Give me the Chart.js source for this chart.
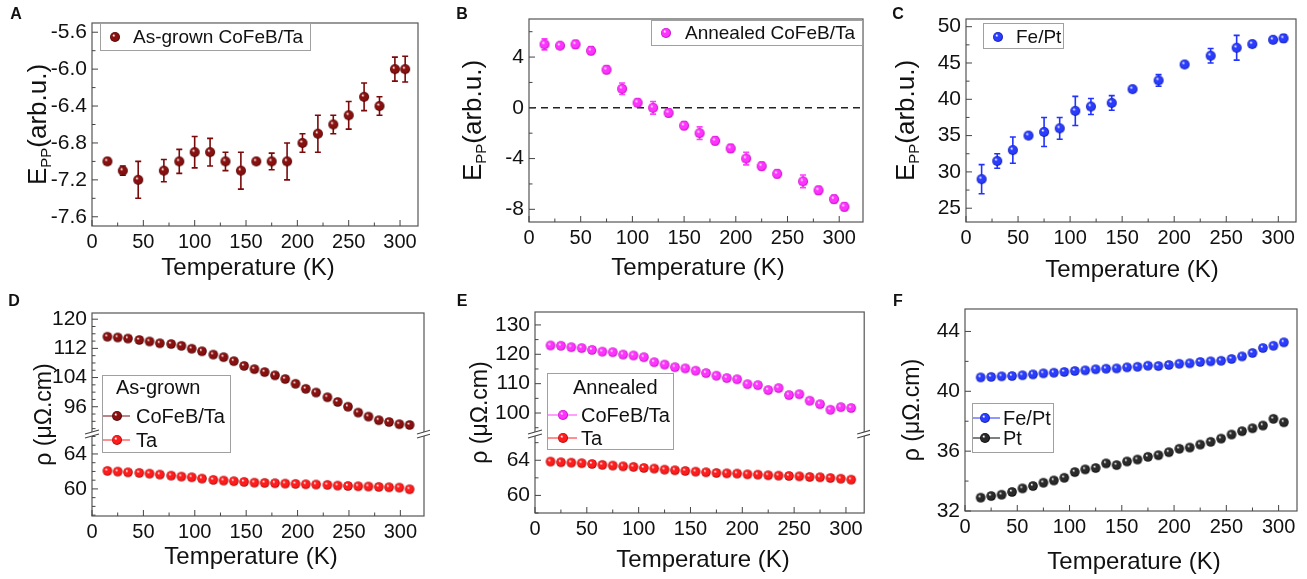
<!DOCTYPE html>
<html lang="en">
<head>
<meta charset="UTF-8">
<title>E_PP and resistivity vs temperature</title>
<script src="https://cdn.jsdelivr.net/npm/chart.js"></script>
<style>
  body { margin: 0; background: #fff; }
  #fig { position: relative; width: 1307px; height: 579px; overflow: hidden; }
  #fig canvas { position: absolute; }
</style>
</head>
<body>
<div id="fig">
  <canvas id="pA" width="430" height="290" style="left:0;top:0"></canvas>
  <canvas id="pB" width="440" height="290" style="left:430px;top:0"></canvas>
  <canvas id="pC" width="437" height="290" style="left:870px;top:0"></canvas>
  <canvas id="pD" width="430" height="289" style="left:0;top:290px"></canvas>
  <canvas id="pE" width="440" height="289" style="left:430px;top:290px"></canvas>
  <canvas id="pF" width="437" height="289" style="left:870px;top:290px"></canvas>
</div>
<script>
const FONT = '"Liberation Sans", Arial, Helvetica, sans-serif';

// ---- data ----
const tempA = [15, 30, 45, 70, 85, 100, 115, 130, 145, 160, 175, 190, 205, 220, 235, 250, 265, 280, 295, 305];
const eppA = [-7.0, -7.1, -7.2, -7.1, -7.0, -6.9, -6.9, -7.0, -7.1, -7.0, -7.0, -7.0, -6.8, -6.7, -6.6, -6.5, -6.3, -6.4, -6.0, -6.0];
const errA = [0.03, 0.05, 0.2, 0.12, 0.13, 0.17, 0.15, 0.1, 0.2, 0.02, 0.09, 0.2, 0.1, 0.2, 0.1, 0.15, 0.15, 0.1, 0.13, 0.14];

const tempB = [15, 30, 45, 60, 75, 90, 105, 120, 135, 150, 165, 180, 195, 210, 225, 240, 265, 280, 295, 305];
const eppB = [5.0, 4.9, 5.0, 4.5, 3.0, 1.5, 0.4, 0.0, -0.4, -1.4, -2.0, -2.6, -3.2, -4.0, -4.6, -5.2, -5.8, -6.5, -7.2, -7.8];
const errB = [0.43, 0.2, 0.3, 0.3, 0.3, 0.45, 0.3, 0.5, 0.3, 0.3, 0.5, 0.3, 0.3, 0.5, 0.3, 0.3, 0.5, 0.3, 0.3, 0.3];

const tempC = [15, 30, 45, 60, 75, 90, 105, 120, 140, 160, 185, 210, 235, 260, 275, 295, 305];
const eppC = [29.0, 31.5, 33.0, 35.0, 35.5, 36.0, 38.4, 39.0, 39.5, 41.4, 42.6, 44.8, 46.0, 47.1, 47.6, 48.2, 48.4];
const errC = [2.0, 1.0, 1.8, 0.3, 2.0, 1.5, 2.0, 1.1, 1.0, 0.3, 0.8, 0.3, 1.0, 1.7, 0.4, 0.4, 0.5];

const tempD = [15, 25, 35, 46, 56, 66, 77, 87, 97, 107, 118, 128, 138, 148, 158, 168, 178, 188, 198, 208, 218, 229, 239, 249, 259, 269, 279, 289, 299, 309];
const rhoCoFeBD = [115.2, 115.0, 114.7, 114.3, 113.9, 113.4, 113.2, 112.7, 111.9, 111.2, 110.3, 109.6, 108.5, 107.2, 106.3, 105.5, 104.6, 103.6, 102.3, 100.9, 99.9, 98.6, 97.3, 96.0, 94.4, 93.3, 92.3, 91.8, 91.2, 91.0];
const rhoTaD = [62.06, 61.98, 61.9, 61.83, 61.75, 61.64, 61.52, 61.41, 61.33, 61.18, 61.03, 60.95, 60.88, 60.8, 60.72, 60.69, 60.65, 60.61, 60.57, 60.53, 60.5, 60.46, 60.38, 60.34, 60.3, 60.27, 60.23, 60.19, 60.15, 59.96];

const tempEF = [15, 25, 35, 45, 55, 65, 75, 85, 95, 105, 115, 125, 135, 145, 155, 165, 175, 185, 195, 205, 215, 225, 235, 245, 255, 265, 275, 285, 295, 305];
const rhoCoFeBE = [123.0, 122.9, 122.4, 122.1, 121.5, 120.9, 120.7, 119.9, 119.6, 119.0, 117.3, 116.5, 115.6, 115.2, 114.4, 113.6, 112.7, 111.9, 111.5, 109.8, 109.5, 107.8, 108.5, 106.1, 106.4, 104.2, 103.0, 101.1, 102.0, 101.7];
const rhoTaE = [63.85, 63.77, 63.73, 63.66, 63.58, 63.47, 63.39, 63.31, 63.24, 63.12, 63.05, 62.93, 62.86, 62.78, 62.7, 62.63, 62.55, 62.51, 62.48, 62.4, 62.36, 62.29, 62.25, 62.21, 62.17, 62.1, 62.06, 61.98, 61.9, 61.79];
const rhoFePtF = [40.93, 40.96, 41.0, 41.02, 41.07, 41.13, 41.2, 41.24, 41.29, 41.36, 41.4, 41.47, 41.51, 41.53, 41.6, 41.64, 41.71, 41.69, 41.76, 41.84, 41.87, 41.96, 42.0, 42.04, 42.16, 42.33, 42.56, 42.89, 43.04, 43.27];
const rhoPtF = [32.89, 33.0, 33.09, 33.27, 33.51, 33.67, 33.89, 34.04, 34.22, 34.6, 34.78, 34.87, 35.18, 35.07, 35.31, 35.44, 35.62, 35.73, 35.93, 36.16, 36.24, 36.44, 36.62, 36.84, 37.11, 37.33, 37.53, 37.71, 38.16, 37.93];

// tick labels
const tickTemp = [0, 50, 100, 150, 200, 250, 300];
const ticksA = [-7.6, -7.2, -6.8, -6.4, -6.0, -5.6];
const ticksB = [-8, -4, 0, 4];
const ticksC = [25, 30, 35, 40, 45, 50];
const ticksDtop = [96, 104, 112, 120];
const ticksDbot = [60, 64];
const ticksEtop = [100, 110, 120, 130];
const ticksEbot = [60, 64];
const ticksF = [32, 36, 40, 44];

// colours: [body, edge, error bar / legend line]
const MAROON = ['#8a1010', '#420000', '#7a0a0a'];
const MAGENTA = ['#ff33ff', '#b000b0', '#ff40ff'];
const BLUE = ['#2a3cff', '#0a149a', '#2233ff'];
const RED = ['#ff1c1c', '#a00000', '#ff2020'];
const BLACK = ['#2a2a2a', '#000000', '#000000'];

function ball(col, r) {
  const s = Math.ceil(2 * r + 2);
  const c = document.createElement('canvas');
  c.width = c.height = s;
  const g = c.getContext('2d');
  const cx = s / 2, cy = s / 2;
  const grad = g.createRadialGradient(cx - r * 0.3, cy - r * 0.35, r * 0.05, cx, cy, r);
  grad.addColorStop(0, '#ffffff');
  grad.addColorStop(0.3, col[0]);
  grad.addColorStop(0.75, col[0]);
  grad.addColorStop(1, col[1]);
  g.fillStyle = grad;
  g.beginPath();
  g.arc(cx, cy, r, 0, Math.PI * 2);
  g.fill();
  return c;
}

function tickMarks(ctx, a, scale, majors, minorStep, horiz) {
  const list = majors.map(v => [v, 6]);
  if (minorStep) {
    for (let v = Math.ceil(scale.min / minorStep) * minorStep; v <= scale.max + 1e-9; v += minorStep) {
      const vv = Math.round(v * 1000) / 1000;
      if (!majors.some(m => Math.abs(m - vv) < 1e-6)) list.push([vv, 3.5]);
    }
  }
  ctx.beginPath();
  list.forEach(([v, len]) => {
    const p = scale.getPixelForValue(v);
    if (horiz) { ctx.moveTo(p, a.bottom); ctx.lineTo(p, a.bottom - len); }
    else { ctx.moveTo(a.left, p); ctx.lineTo(a.left + len, p); }
  });
  ctx.stroke();
}

function breakMark(ctx, x, y) {
  ctx.save();
  ctx.fillStyle = '#fff';
  ctx.beginPath();
  ctx.moveTo(x - 7, y + 1); ctx.lineTo(x + 7, y - 3); ctx.lineTo(x + 7, y + 1); ctx.lineTo(x - 7, y + 5);
  ctx.closePath();
  ctx.fill();
  ctx.strokeStyle = '#444';
  ctx.lineWidth = 1.1;
  ctx.beginPath();
  ctx.moveTo(x - 7, y + 1); ctx.lineTo(x + 7, y - 3);
  ctx.moveTo(x - 7, y + 5); ctx.lineTo(x + 7, y + 1);
  ctx.stroke();
  ctx.restore();
}

function yTitle(ctx, parts, cx, cy) {
  ctx.save();
  ctx.translate(cx, cy);
  ctx.rotate(-Math.PI / 2);
  ctx.fillStyle = '#111';
  ctx.textBaseline = 'alphabetic';
  let total = 0;
  parts.forEach(p => { ctx.font = p.size + 'px ' + FONT; p.w = ctx.measureText(p.t).width; total += p.w; });
  let x = -total / 2;
  parts.forEach(p => {
    ctx.font = p.size + 'px ' + FONT;
    ctx.fillText(p.t, x, 8 + (p.dy || 0));
    x += p.w;
  });
  ctx.restore();
}

function legendBox(ctx, L) {
  const [x1, y1, x2, y2] = L.box;
  ctx.save();
  ctx.fillStyle = '#fff';
  ctx.fillRect(x1, y1, x2 - x1, y2 - y1);
  ctx.strokeStyle = '#a0a0a0';
  ctx.lineWidth = 1;
  ctx.strokeRect(x1 + 0.5, y1 + 0.5, x2 - x1, y2 - y1);
  ctx.fillStyle = '#111';
  ctx.textBaseline = 'middle';
  ctx.font = L.size + 'px ' + FONT;
  if (L.title) ctx.fillText(L.title[0], L.title[1], L.title[2]);
  L.items.forEach(it => {
    if (it.line) {
      ctx.strokeStyle = it.col[2];
      ctx.lineWidth = 1;
      ctx.beginPath();
      ctx.moveTo(it.line[0], it.y); ctx.lineTo(it.line[1], it.y);
      ctx.stroke();
    }
    const img = ball(it.col, 5);
    ctx.drawImage(img, it.bx - img.width / 2, it.y - img.height / 2);
    ctx.fillStyle = '#111';
    ctx.fillText(it.text, it.tx, it.y + 1);
  });
  ctx.restore();
}

function decoPlugin(p) {
  return {
    id: 'deco',
    beforeDatasetsDraw(chart) {
      const ctx = chart.ctx, a = chart.chartArea;
      if (p.zeroLine) {
        const y = chart.scales.y.getPixelForValue(0);
        ctx.save();
        ctx.strokeStyle = '#222';
        ctx.lineWidth = 1.5;
        ctx.setLineDash([7, 5]);
        ctx.beginPath(); ctx.moveTo(a.left, y); ctx.lineTo(a.right, y); ctx.stroke();
        ctx.restore();
      }
      chart.data.datasets.forEach((ds, i) => {
        if (!ds.errors) return;
        const meta = chart.getDatasetMeta(i);
        const xs = meta.xScale, ys = meta.yScale;
        ctx.save();
        ctx.strokeStyle = ds.errColor;
        ctx.lineWidth = 1.6;
        ctx.beginPath();
        ds.data.forEach((pt, j) => {
          const e = ds.errors[j];
          const x = xs.getPixelForValue(pt.x);
          const y1 = ys.getPixelForValue(pt.y + e), y2 = ys.getPixelForValue(pt.y - e);
          ctx.moveTo(x, y1); ctx.lineTo(x, y2);
          ctx.moveTo(x - 3, y1); ctx.lineTo(x + 3, y1);
          ctx.moveTo(x - 3, y2); ctx.lineTo(x + 3, y2);
        });
        ctx.stroke();
        ctx.restore();
      });
    },
    afterDraw(chart) {
      const ctx = chart.ctx, a = chart.chartArea;
      ctx.save();
      ctx.strokeStyle = '#555';
      ctx.lineWidth = 1.2;
      ctx.strokeRect(a.left, a.top, a.right - a.left, a.bottom - a.top);
      ctx.lineWidth = 1;
      ctx.strokeStyle = '#444';
      tickMarks(ctx, a, chart.scales.x, tickTemp, 25, true);
      p.yAxes.forEach(ax => tickMarks(ctx, a, chart.scales[ax.id], ax.ticks, ax.minor, false));
      if (p.yAxes.length > 1) {
        const yb = chart.scales[p.yAxes[0].id].bottom;
        breakMark(ctx, a.left, yb);
        breakMark(ctx, a.right, yb);
      }
      ctx.restore();

      legendBox(ctx, p.legend);
      yTitle(ctx, p.yTitle, p.yTitleX, (a.top + a.bottom) / 2);

      ctx.save();
      ctx.fillStyle = '#111';
      ctx.textAlign = 'center';
      ctx.textBaseline = 'middle';
      ctx.font = '24px ' + FONT;
      ctx.fillText('Temperature (K)', p.xTitle[0], p.xTitle[1]);
      ctx.font = 'bold 16px ' + FONT;
      ctx.fillText(p.letter[0], p.letter[1], p.letter[2]);
      ctx.restore();
    }
  };
}

function makePanel(id, p) {
  const canvas = document.getElementById(id);
  const W = canvas.width, H = canvas.height;
  const scales = {
    x: {
      type: 'linear', min: 0, max: p.xMax,
      afterFit: s => { s.height = H - p.area.b; },
      afterBuildTicks: s => { s.ticks = tickTemp.map(v => ({ value: v })); },
      grid: { display: false, drawTicks: false },
      border: { display: false },
      ticks: { font: { family: FONT, size: 20 }, color: '#111', padding: 4, maxRotation: 0, autoSkip: false }
    }
  };
  // stacked left axes are laid out last-defined on top, so add the lower one first
  const axes = p.yAxes.length > 1 ? p.yAxes.slice().reverse() : p.yAxes;
  axes.forEach(ax => {
    scales[ax.id] = {
      type: 'linear', position: 'left', min: ax.min, max: ax.max,
      afterFit: s => { s.width = p.area.l; },
      afterBuildTicks: s => { s.ticks = ax.ticks.map(v => ({ value: v })); },
      grid: { display: false, drawTicks: false },
      border: { display: false },
      ticks: {
        font: { family: FONT, size: 21 }, color: '#111', padding: 5, autoSkip: false,
        callback: v => ax.dec ? v.toFixed(ax.dec) : String(v)
      }
    };
    if (p.yAxes.length > 1) {
      scales[ax.id].stack = 'rho';
      scales[ax.id].stackWeight = ax.weight;
    }
  });
  const datasets = p.series.map(s => ({
    label: s.label,
    data: s.x.map((x, i) => ({ x: x, y: s.y[i] })),
    yAxisID: s.axis,
    pointStyle: ball(s.col, s.r),
    pointRadius: s.r,
    pointHoverRadius: s.r,
    showLine: false,
    errors: s.err,
    errColor: s.col[2]
  }));
  return new Chart(canvas, {
    type: 'scatter',
    data: { datasets: datasets },
    options: {
      responsive: false,
      animation: false,
      devicePixelRatio: 1,
      layout: { padding: { left: 0, top: p.area.t, right: W - p.area.r, bottom: 0 } },
      scales: scales,
      plugins: { legend: { display: false }, tooltip: { enabled: false } }
    },
    plugins: [decoPlugin(p)]
  });
}

const eppTitle = () => [{ t: 'E', size: 26 }, { t: 'PP', size: 15, dy: 5 }, { t: '(arb.u.)', size: 26 }];
const rhoTitle = () => [{ t: 'ρ (μΩ.cm)', size: 23 }];

makePanel('pA', {
  area: { l: 92, t: 23, r: 418, b: 226 }, xMax: 317.5,
  yAxes: [{ id: 'y', min: -7.7, max: -5.5, ticks: ticksA, minor: 0.2, dec: 1 }],
  series: [{ label: 'As-grown CoFeB/Ta', x: tempA, y: eppA, err: errA, axis: 'y', col: MAROON, r: 5 }],
  legend: { box: [100, 23, 310, 50], size: 19, items: [{ col: MAROON, bx: 115, y: 37, tx: 133, text: 'As-grown CoFeB/Ta' }] },
  yTitle: eppTitle(), yTitleX: 38, xTitle: [248, 268], letter: ['A', 16, 15]
});

makePanel('pB', {
  area: { l: 99, t: 19, r: 433, b: 222 }, xMax: 323, zeroLine: true,
  yAxes: [{ id: 'y', min: -9, max: 7, ticks: ticksB, minor: 2 }],
  series: [{ label: 'Annealed CoFeB/Ta', x: tempB, y: eppB, err: errB, axis: 'y', col: MAGENTA, r: 5 }],
  legend: { box: [221, 20, 432, 45], size: 19, items: [{ col: MAGENTA, bx: 236, y: 33, tx: 255, text: 'Annealed CoFeB/Ta' }] },
  yTitle: eppTitle(), yTitleX: 43, xTitle: [268, 268], letter: ['B', 32, 15]
});

makePanel('pC', {
  area: { l: 96, t: 19, r: 426, b: 222 }, xMax: 317,
  yAxes: [{ id: 'y', min: 23.1, max: 51.06, ticks: ticksC, minor: 2.5 }],
  series: [{ label: 'Fe/Pt', x: tempC, y: eppC, err: errC, axis: 'y', col: BLUE, r: 5 }],
  legend: { box: [113, 23, 193, 48], size: 19, items: [{ col: BLUE, bx: 128, y: 37, tx: 146, text: 'Fe/Pt' }] },
  yTitle: eppTitle(), yTitleX: 36, xTitle: [262, 270], letter: ['C', 28, 15]
});

makePanel('pD', {
  area: { l: 92, t: 23, r: 424, b: 226 }, xMax: 323,
  yAxes: [
    { id: 'yTop', min: 88.8, max: 121.7, ticks: ticksDtop, minor: 2, weight: 120 },
    { id: 'yBot', min: 56.9, max: 66.4, ticks: ticksDbot, minor: 1, weight: 83 }
  ],
  series: [
    { label: 'CoFeB/Ta', x: tempD, y: rhoCoFeBD, axis: 'yTop', col: MAROON, r: 4.8 },
    { label: 'Ta', x: tempD, y: rhoTaD, axis: 'yBot', col: RED, r: 4.8 }
  ],
  legend: {
    box: [102, 85, 230, 162], size: 20, title: ['As-grown', 116, 98],
    items: [
      { col: MAROON, bx: 117, y: 126, tx: 136, text: 'CoFeB/Ta', line: [103, 130] },
      { col: RED, bx: 117, y: 150, tx: 136, text: 'Ta', line: [103, 130] }
    ]
  },
  yTitle: rhoTitle(), yTitleX: 43, xTitle: [251, 267], letter: ['D', 14, 12]
});

makePanel('pE', {
  area: { l: 105, t: 22, r: 437, b: 223 }, xMax: 317.6,
  yAxes: [
    { id: 'yTop', min: 93.2, max: 134.4, ticks: ticksEtop, minor: 5, weight: 121 },
    { id: 'yBot', min: 58.0, max: 67.1, ticks: ticksEbot, minor: 2, weight: 80 }
  ],
  series: [
    { label: 'CoFeB/Ta', x: tempEF, y: rhoCoFeBE, axis: 'yTop', col: MAGENTA, r: 4.8 },
    { label: 'Ta', x: tempEF, y: rhoTaE, axis: 'yBot', col: RED, r: 4.8 }
  ],
  legend: {
    box: [117, 83, 243, 159], size: 20, title: ['Annealed', 143, 98],
    items: [
      { col: MAGENTA, bx: 133, y: 125, tx: 151, text: 'CoFeB/Ta', line: [118, 147] },
      { col: RED, bx: 133, y: 148, tx: 151, text: 'Ta', line: [118, 147] }
    ]
  },
  yTitle: rhoTitle(), yTitleX: 49, xTitle: [273, 270], letter: ['E', 32, 12]
});

makePanel('pF', {
  area: { l: 95, t: 19, r: 427, b: 221 }, xMax: 317.6,
  yAxes: [{ id: 'y', min: 32, max: 45.5, ticks: ticksF, minor: 2 }],
  series: [
    { label: 'Fe/Pt', x: tempEF, y: rhoFePtF, axis: 'y', col: BLUE, r: 4.8 },
    { label: 'Pt', x: tempEF, y: rhoPtF, axis: 'y', col: BLACK, r: 4.8 }
  ],
  legend: {
    box: [102, 113, 183, 162], size: 20,
    items: [
      { col: BLUE, bx: 115, y: 128, tx: 133, text: 'Fe/Pt', line: [103, 130] },
      { col: BLACK, bx: 115, y: 148, tx: 133, text: 'Pt', line: [103, 130] }
    ]
  },
  yTitle: rhoTitle(), yTitleX: 41, xTitle: [264, 272], letter: ['F', 28, 12]
});
</script>
</body>
</html>
